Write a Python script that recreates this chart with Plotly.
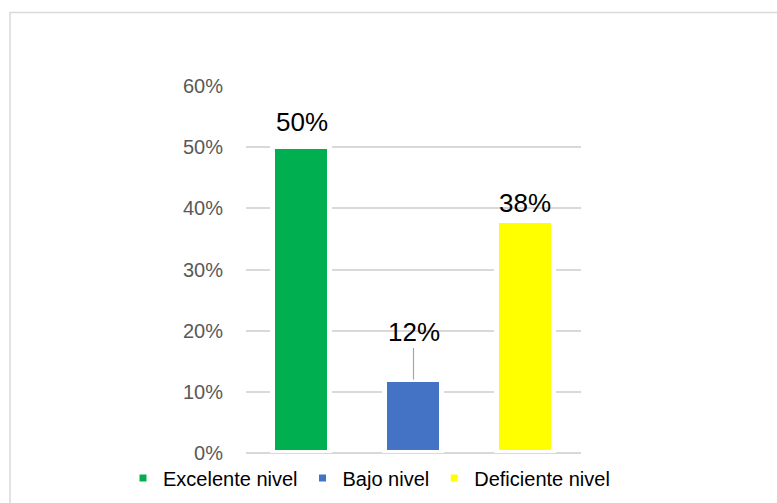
import plotly.graph_objects as go

# Chart data
categories = ["Excelente nivel", "Bajo nivel", "Deficiente nivel"]
values = [0.50, 0.12, 0.38]
colors = ["#00B050", "#4472C4", "#FFFF00"]
label_shift = [25, 48, 18]   # pixel offset of each value label above its bar

W, H = 777, 503
M_L, M_R, M_T, M_B = 246, 196, 86, 50

fig = go.Figure()
for cat, val, col in zip(categories, values, colors):
    fig.add_trace(go.Bar(
        x=[cat], y=[val], name=cat,
        marker=dict(color=col, line=dict(color="white", width=5)),
        width=0.51,
    ))

annotations = []
for i, (cat, val) in enumerate(zip(categories, values)):
    txt = f"{val:.0%}"
    if i == 1:
        # label pulled up from the short bar, joined by a leader line
        annotations.append(dict(
            x=cat, y=val, text=txt, showarrow=True, arrowhead=0,
            arrowwidth=1.2, arrowcolor="#a6a6a6", ax=0, ay=-label_shift[i],
            standoff=0, font=dict(size=26, color="black", family="Liberation Sans"),
        ))
    else:
        annotations.append(dict(
            x=cat, y=val, text=txt, showarrow=False, yanchor="middle",
            yshift=label_shift[i],
            font=dict(size=26, color="black", family="Liberation Sans"),
        ))

plot_w = W - M_L - M_R
plot_h = H - M_T - M_B

def px_x(px):
    return (px - M_L) / plot_w

def px_y(py):
    return (H - M_B - py) / plot_h

fig.update_layout(
    width=W, height=H,
    margin=dict(l=M_L, r=M_R, t=M_T, b=M_B, autoexpand=False),
    paper_bgcolor="white", plot_bgcolor="white",
    barmode="overlay",
    bargap=0,
    font=dict(family="Liberation Sans", color="black"),
    annotations=annotations,
    showlegend=True,
    legend=dict(
        orientation="h", x=px_x(123), xanchor="left",
        y=px_y(478), yanchor="middle",
        font=dict(size=20, color="black"),
        bgcolor="rgba(0,0,0,0)",
    ),
    shapes=[dict(
        type="rect", xref="paper", yref="paper", layer="below",
        x0=px_x(10), x1=px_x(800), y0=px_y(530), y1=px_y(12.5),
        line=dict(color="#d9d9d9", width=1.5), fillcolor="rgba(0,0,0,0)",
    )],
)

fig.update_xaxes(
    type="category", range=[-0.5, 2.5], showticklabels=False,
    showgrid=False, zeroline=False, showline=False, ticks="",
)
fig.update_yaxes(
    range=[0, 0.6], dtick=0.1, tickformat=".0%",
    showgrid=True, gridcolor="#d9d9d9", gridwidth=1.5,
    zeroline=True, zerolinecolor="#d9d9d9", zerolinewidth=1.5,
    showline=False, ticks="", ticklabelstandoff=22,
    tickfont=dict(size=20, color="#595959", family="Liberation Sans"),
)

fig.write_html("out.html")
